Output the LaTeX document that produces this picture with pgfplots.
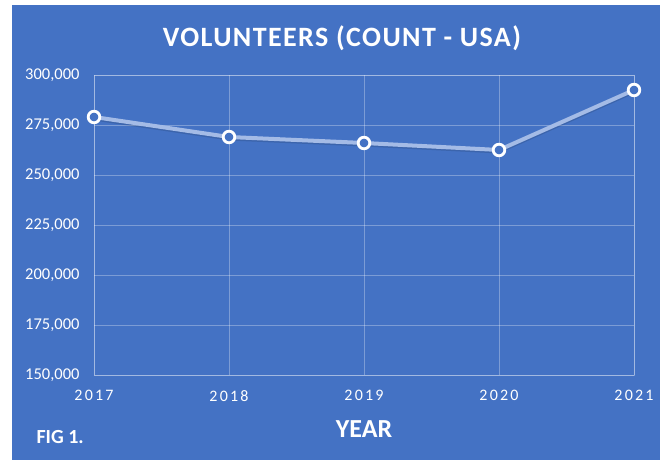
\documentclass[border=0pt]{standalone}
\usepackage{pgfplots}
\pgfplotsset{compat=1.18}
\usepackage{fontspec}
\setmainfont{Carlito}
\newfontfamily\spaced{Carlito}[LetterSpace=14]
\newfontfamily\titlefont{Carlito}[LetterSpace=5]
\definecolor{bg}{HTML}{4472C4}
\definecolor{ln}{HTML}{A4BBE6}
\begin{document}
\begin{tikzpicture}[x=1pt,y=1pt]
\fill[white] (0,0) rectangle (660,460);
\fill[bg] (12,0) rectangle (660,455);
\begin{axis}[
  at={(94pt,85pt)}, anchor=south west,
  scale only axis, width=540pt, height=300pt,
  xmin=2017, xmax=2021, ymin=150000, ymax=300000,
  xtick={2017,2018,2019,2020,2021},
  ytick={150000,175000,200000,225000,250000,275000,300000},
  xticklabels={2017,2018,2019,2020,2021},
  yticklabels={{150,000},{175,000},{200,000},{225,000},{250,000},{275,000},{300,000}},
  scaled y ticks=false,
  grid=major,
  grid style={white, opacity=0.3, line width=0.8pt},
  axis line style={white, opacity=0.3, line width=0.8pt},
  major tick length=0pt,
  tick style={draw=none},
  yticklabel style={text=white, font=\fontsize{16.5}{16.5}\selectfont, xshift=-11pt},
  xticklabel style={text=white, font=\spaced\fontsize{16}{16}\selectfont, yshift=-12pt},
  clip=false,
]
\addplot[color=black, opacity=0.12, line width=3pt] coordinates {
 (2017,278000) (2018,268000) (2019,265000) (2020,261500) (2021,291500)};
\addplot[color=ln, line width=4pt, mark=*, mark size=5.8pt,
  mark options={fill=bg, draw=white, line width=2.8pt}] coordinates {
 (2017,279000) (2018,269000) (2019,266000) (2020,262500) (2021,292500)};
\end{axis}
\node[text=white, font=\titlefont\fontsize{28}{28}\selectfont\bfseries] at (342,422) {VOLUNTEERS (COUNT - USA)};
\node[text=white, font=\fontsize{26}{26}\selectfont\bfseries] at (364,31) {YEAR};
\node[text=white, font=\fontsize{20}{20}\selectfont\bfseries, anchor=west] at (33,23) {FIG 1.};
\end{tikzpicture}
\end{document}
